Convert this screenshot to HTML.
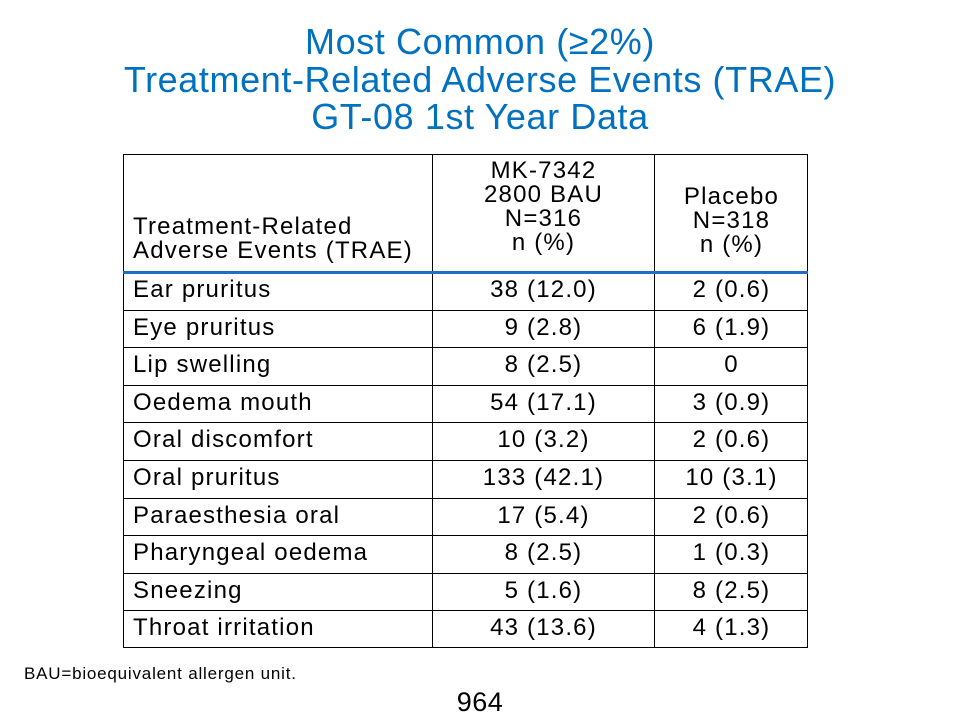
<!DOCTYPE html>
<html><head><meta charset="utf-8"><style>
body{margin:0;width:960px;height:720px;background:#fff;position:relative;font-family:"Liberation Sans",Arial,sans-serif;overflow:hidden}
.t{position:absolute;left:0;width:960px;text-align:center;color:#0070c0;font-size:36px;line-height:37.5px;letter-spacing:0.6px}
.tbl{position:absolute;left:123px;top:154px;width:685px;height:494px;border:1px solid #000;box-sizing:border-box}
.vl{position:absolute;top:0;bottom:0;width:1px;background:#000}
.hl{position:absolute;left:0;right:0;height:1px;background:#000}
.c{position:absolute;font-size:24px;line-height:24px;letter-spacing:1.2px;color:#000;white-space:nowrap}
.ctr{text-align:center}
</style></head><body>
<div class="t" style="top:23px">Most Common (≥2%)<br>Treatment-Related Adverse Events (TRAE)<br>GT-08 1st Year Data</div>
<div class="tbl" id="tbl">
<div class="vl" style="left:308px"></div>
<div class="vl" style="left:530px"></div>
<div style="position:absolute;left:-1px;right:-1px;top:116px;height:3px;background:#1f6fc5"></div>
<div class="c" style="left:9px;top:60px;line-height:24px">Treatment-Related<br>Adverse Events (TRAE)</div>
<div class="c ctr" style="left:309px;width:221px;top:4px">MK-7342<br>2800 BAU<br>N=316<br>n (%)</div>
<div class="c ctr" style="left:531px;width:153px;top:30px">Placebo<br>N=318<br>n (%)</div>
</div>
<div style="position:absolute;left:24px;top:664px;font-size:17px;letter-spacing:0.8px">BAU=bioequivalent allergen unit.</div>
<div style="position:absolute;left:0;width:960px;text-align:center;top:687px;font-size:27px;letter-spacing:0.5px">964</div>
<script>
const events=["Ear pruritus","Eye pruritus","Lip swelling","Oedema mouth","Oral discomfort","Oral pruritus","Paraesthesia oral","Pharyngeal oedema","Sneezing","Throat irritation"];
const mk=["38 (12.0)","9 (2.8)","8 (2.5)","54 (17.1)","10 (3.2)","133 (42.1)","17 (5.4)","8 (2.5)","5 (1.6)","43 (13.6)"];
const pl=["2 (0.6)","6 (1.9)","0","3 (0.9)","2 (0.6)","10 (3.1)","2 (0.6)","1 (0.3)","8 (2.5)","4 (1.3)"];
const tbl=document.getElementById('tbl');
const top0=118,rh=37.6;
events.forEach((e,i)=>{
 const y=top0+i*rh;
 if(i>0){const l=document.createElement('div');l.className='hl';l.style.top=(y-1)+'px';
 
 
 tbl.appendChild(l);}
 const a=document.createElement('div');a.className='c';a.style.left='9px';a.style.top=(y+5)+'px';a.textContent=e;
 
 
 tbl.appendChild(a);
 const b=document.createElement('div');b.className='c ctr';b.style.left='309px';b.style.width='221px';b.style.top=(y+5)+'px';b.textContent=mk[i];
 
 
 tbl.appendChild(b);
 const p=document.createElement('div');p.className='c ctr';p.style.left='531px';p.style.width='153px';p.style.top=(y+5)+'px';p.textContent=pl[i];
 
 
 tbl.appendChild(p);
});
</script>
</body></html>
